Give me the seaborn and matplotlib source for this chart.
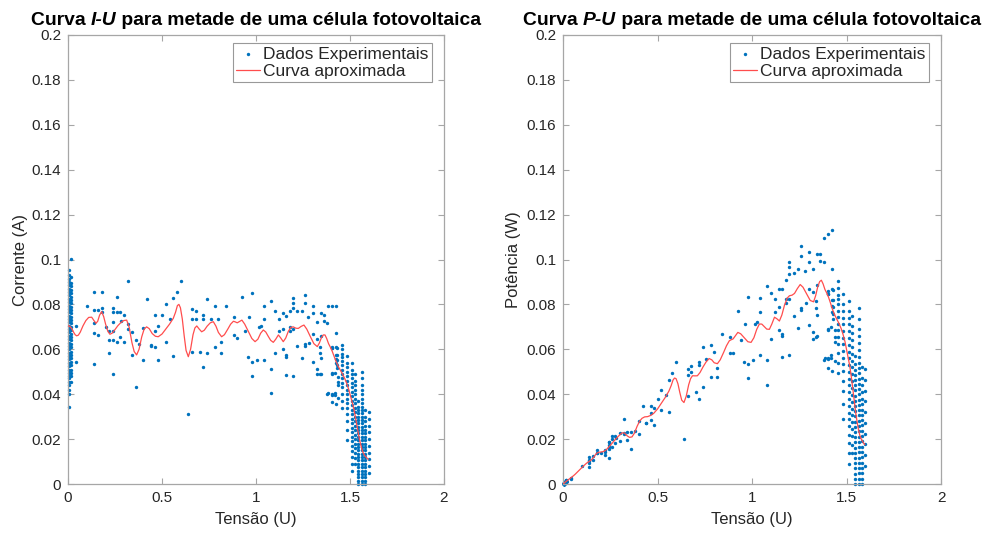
import matplotlib
matplotlib.use("Agg")
import matplotlib.pyplot as plt
import seaborn as sns
import numpy as np
import pandas as pd
from matplotlib.ticker import FuncFormatter, MultipleLocator

# ---------------- data ----------------
# isolated measurement points (U in V, I in A)
scatter_U = [0.041, 0.041, 0.099, 0.14, 0.14, 0.14, 0.14, 0.14, 0.161, 0.161, 0.179, 0.179, 0.179,
             0.2, 0.22, 0.22, 0.22, 0.241, 0.241, 0.241, 0.241, 0.241, 0.241, 0.259, 0.259, 0.277, 0.277,
             0.259, 0.282, 0.3, 0.3, 0.321, 0.321, 0.321, 0.339, 0.339, 0.362, 0.362, 0.379, 0.401, 0.401,
             0.422, 0.44, 0.44, 0.463, 0.463, 0.463, 0.48, 0.48, 0.5, 0.521, 0.521, 0.543, 0.56, 0.56,
             0.578, 0.6, 0.64, 0.661, 0.661, 0.661, 0.679, 0.679, 0.702, 0.72, 0.72, 0.72, 0.741, 0.741,
             0.759, 0.782, 0.782, 0.8, 0.816, 0.816, 0.839, 0.881, 0.881, 0.899, 0.924, 0.941, 0.959, 0.963,
             0.98, 0.98, 0.98, 1.004, 1.016, 1.025, 1.043, 1.043, 1.043, 1.08, 1.08, 1.08, 1.101, 1.101,
             1.122, 1.122, 1.142, 1.142, 1.142, 1.16, 1.16, 1.16, 1.16, 1.181, 1.181, 1.181, 1.198, 1.198,
             1.198, 1.198, 1.198, 1.22, 1.22, 1.243, 1.243, 1.261, 1.261, 1.261, 1.261, 1.278, 1.284, 1.301,
             1.301, 1.301, 1.301, 1.323, 1.323, 1.323, 1.323, 1.34, 1.34, 1.34, 1.344, 1.362, 1.362, 1.379,
             1.381, 1.402, 1.424, 1.379, 1.402, 1.418, 1.424, 1.402, 1.402, 1.424, 1.424, 1.424, 1.424,
             1.424, 1.346, 1.346, 1.346, 1.402, 1.402, 1.402, 1.402, 1.402, 1.385, 1.42, 1.42, 1.429, 1.429,
             1.429, 1.429, 1.429, 1.438, 1.438, 1.438, 1.438]
scatter_I = [0.0704, 0.0545, 0.0793, 0.0857, 0.0775, 0.0719, 0.0674, 0.0535, 0.0775, 0.0664, 0.0857,
             0.0782, 0.0768, 0.0698, 0.0683, 0.0641, 0.0585, 0.0782, 0.0768, 0.0723, 0.0683, 0.0641, 0.0489,
             0.0832, 0.0768, 0.0768, 0.0654, 0.0632, 0.0728, 0.0753, 0.0632, 0.0904, 0.0714, 0.0689, 0.0679,
             0.0575, 0.0641, 0.0434, 0.0625, 0.0552, 0.0696, 0.0823, 0.0620, 0.0613, 0.0612, 0.0753, 0.0683,
             0.0704, 0.0552, 0.0753, 0.0634, 0.0802, 0.0733, 0.0827, 0.0572, 0.0857, 0.0906, 0.0312, 0.0778,
             0.0733, 0.0590, 0.0771, 0.0733, 0.0586, 0.0753, 0.0735, 0.0523, 0.0823, 0.0585, 0.0735, 0.0794,
             0.0609, 0.0735, 0.0634, 0.0585, 0.0794, 0.0745, 0.0664, 0.0649, 0.0832, 0.0683, 0.0567, 0.0742,
             0.0849, 0.0545, 0.0481, 0.0552, 0.0700, 0.0705, 0.0793, 0.0735, 0.0552, 0.0817, 0.0512, 0.0407,
             0.0771, 0.0585, 0.0735, 0.0681, 0.0760, 0.0689, 0.0601, 0.0748, 0.0575, 0.0567, 0.0486, 0.0771,
             0.0698, 0.0683, 0.0827, 0.0805, 0.0782, 0.0689, 0.0481, 0.0772, 0.0615, 0.0772, 0.0560, 0.0842,
             0.0805, 0.0622, 0.0615, 0.0742, 0.0627, 0.0793, 0.0760, 0.0667, 0.0545, 0.0723, 0.0646, 0.0512,
             0.0489, 0.0609, 0.0585, 0.0489, 0.0763, 0.0753, 0.0728, 0.0716, 0.0793, 0.0793, 0.0793, 0.0401,
             0.0401, 0.0396, 0.0355, 0.0489, 0.0604, 0.0671, 0.0609, 0.0575, 0.0556, 0.0538, 0.0659, 0.0560,
             0.0490, 0.0612, 0.0604, 0.0493, 0.0396, 0.0367, 0.0404, 0.0493, 0.0404, 0.0604, 0.0575, 0.0552,
             0.0530, 0.0515, 0.0478, 0.0456, 0.0441, 0.0382]

# dense runs of measurements taken at (almost) constant voltage
column_U = [0.003, 0.017, 1.455, 1.482, 1.513, 1.527, 1.545, 1.566, 1.580, 1.600]
column_I = [
    [0.0344, 0.040, 0.042, 0.044, 0.0455, 0.047, 0.048, 0.0495, 0.051, 0.0525, 0.054, 0.0555, 0.057,
     0.0585, 0.060, 0.0615, 0.063, 0.0645, 0.066, 0.0675, 0.069, 0.0705, 0.072, 0.0735, 0.075, 0.0765,
     0.078, 0.0795, 0.081, 0.0825, 0.084, 0.0855, 0.087, 0.0885, 0.090, 0.0915, 0.093, 0.0953],
    [0.0456, 0.048, 0.0495, 0.051, 0.053, 0.0545, 0.056, 0.0575, 0.059, 0.061, 0.0625, 0.064, 0.0655,
     0.067, 0.0685, 0.070, 0.0715, 0.073, 0.0745, 0.076, 0.0775, 0.079, 0.0805, 0.082, 0.0835, 0.085,
     0.0865, 0.088, 0.0895, 0.0923, 0.1001],
    [0.034, 0.037, 0.040, 0.043, 0.045, 0.047, 0.049, 0.051, 0.053, 0.055, 0.0565, 0.058, 0.060, 0.062],
    [0.0196, 0.024, 0.028, 0.031, 0.034, 0.036, 0.038, 0.040, 0.042, 0.044, 0.046, 0.048, 0.050, 0.052,
     0.054, 0.057],
    [0.006, 0.009, 0.012, 0.0145, 0.017, 0.019, 0.021, 0.023, 0.025, 0.027, 0.029, 0.031, 0.033, 0.035,
     0.037, 0.039, 0.041, 0.043, 0.045, 0.047, 0.049, 0.051, 0.054],
    [0.009, 0.0115, 0.014, 0.016, 0.018, 0.020, 0.022, 0.024, 0.026, 0.028, 0.030, 0.032, 0.034, 0.036,
     0.038, 0.040, 0.042, 0.044, 0.046, 0.049],
    [0.000, 0.0015, 0.003, 0.0045, 0.006, 0.0075, 0.009, 0.0105, 0.012, 0.0135, 0.015, 0.0165, 0.018,
     0.0195, 0.021, 0.0225, 0.024, 0.0255, 0.027, 0.0285, 0.030, 0.0315, 0.033, 0.0345, 0.037],
    [0.000, 0.0015, 0.003, 0.0045, 0.006, 0.0075, 0.009, 0.0105, 0.012, 0.0135, 0.015, 0.0165, 0.018,
     0.0195, 0.021, 0.0225, 0.024, 0.0255, 0.027, 0.0285, 0.030, 0.0315, 0.033, 0.0345, 0.036, 0.038,
     0.040, 0.042, 0.044, 0.047, 0.050],
    [0.000, 0.0015, 0.003, 0.0045, 0.006, 0.0075, 0.009, 0.0105, 0.012, 0.0135, 0.015, 0.0165, 0.018,
     0.0195, 0.021, 0.0225, 0.024, 0.026, 0.028, 0.030, 0.033],
    [0.005, 0.008, 0.011, 0.014, 0.017, 0.020, 0.023, 0.026, 0.029, 0.032],
]

# fitted (approximated) I-U curve, read point by point
curve_U = [0.000, 0.010, 0.020, 0.030, 0.038, 0.046, 0.055, 0.065, 0.080, 0.095, 0.110, 0.126, 0.138,
           0.149, 0.158, 0.168, 0.179, 0.190, 0.200, 0.212, 0.223, 0.235, 0.250, 0.265, 0.280, 0.296,
           0.312, 0.325, 0.340, 0.352, 0.365, 0.378, 0.392, 0.405, 0.418, 0.432, 0.448, 0.465, 0.480,
           0.500, 0.520, 0.540, 0.560, 0.572, 0.582, 0.590, 0.598, 0.608, 0.618, 0.628, 0.640, 0.652,
           0.665, 0.675, 0.685, 0.698, 0.711, 0.725, 0.740, 0.757, 0.773, 0.787, 0.800, 0.817, 0.832,
           0.850, 0.865, 0.880, 0.890, 0.900, 0.912, 0.925, 0.940, 0.960, 0.978, 0.995, 1.010, 1.025,
           1.039, 1.052, 1.065, 1.078, 1.092, 1.105, 1.119, 1.132, 1.145, 1.158, 1.172, 1.186, 1.198,
           1.212, 1.225, 1.240, 1.255, 1.270, 1.290, 1.308, 1.326, 1.337, 1.348, 1.358, 1.367, 1.376,
           1.386, 1.394, 1.405, 1.415, 1.426, 1.438, 1.450, 1.460, 1.472, 1.482, 1.492, 1.500, 1.509,
           1.518, 1.525, 1.532, 1.538, 1.544, 1.550, 1.557, 1.564, 1.571, 1.578, 1.585, 1.591, 1.597]
curve_I = [0.0705, 0.0702, 0.0692, 0.0676, 0.0665, 0.0660, 0.0663, 0.0676, 0.0705, 0.0728, 0.0742,
           0.0743, 0.0728, 0.0716, 0.0725, 0.0752, 0.0768, 0.0745, 0.0712, 0.0680, 0.0667, 0.0672,
           0.0688, 0.0705, 0.0718, 0.0728, 0.0730, 0.0700, 0.0630, 0.0590, 0.0575, 0.0600, 0.0655,
           0.0690, 0.0700, 0.0692, 0.0670, 0.0658, 0.0656, 0.0668, 0.0690, 0.0712, 0.0738, 0.0765,
           0.0795, 0.0800, 0.0785, 0.0735, 0.0660, 0.0595, 0.0567, 0.0600, 0.0665, 0.0695, 0.0704,
           0.0690, 0.0678, 0.0685, 0.0703, 0.0718, 0.0723, 0.0703, 0.0675, 0.0656, 0.0665, 0.0690,
           0.0712, 0.0725, 0.0722, 0.0718, 0.0724, 0.0730, 0.0712, 0.0678, 0.0648, 0.0634, 0.0645,
           0.0672, 0.0686, 0.0677, 0.0658, 0.0640, 0.0631, 0.0645, 0.0664, 0.0650, 0.0634, 0.0650,
           0.0680, 0.0698, 0.0700, 0.0694, 0.0693, 0.0702, 0.0708, 0.0690, 0.0655, 0.0625, 0.0612,
           0.0628, 0.0652, 0.0664, 0.0664, 0.0648, 0.0625, 0.0612, 0.0592, 0.0570, 0.0545, 0.0523,
           0.0505, 0.0490, 0.0470, 0.0449, 0.0425, 0.0400, 0.0372, 0.0344, 0.0315, 0.0283, 0.0255,
           0.0226, 0.0200, 0.0175, 0.0153, 0.0137, 0.0127, 0.0120, 0.0114, 0.0110]

x_ticks = [0, 0.5, 1, 1.5, 2]
titles = [("Curva ", "I-U", " para metade de uma célula fotovoltaica"),
          ("Curva ", "P-U", " para metade de uma célula fotovoltaica")]
y_labels = ["Corrente (A)", "Potência (W)"]
x_label = "Tensão (U)"
legend_labels = ["Dados Experimentais", "Curva aproximada"]

# ---------------- build tables ----------------
all_U = list(scatter_U)
all_I = list(scatter_I)
for u, col in zip(column_U, column_I):
    all_U += [u] * len(col)
    all_I += col
pts = pd.DataFrame({"U": all_U, "I": all_I})
pts["P"] = pts["U"] * pts["I"]
crv = pd.DataFrame({"U": curve_U, "I": curve_I})
crv["P"] = crv["U"] * crv["I"]

# ---------------- style ----------------
sns.set_style("white")
plt.rcParams["font.family"] = ["Liberation Sans", "DejaVu Sans"]
AX_GRAY = "#a6a6a6"
TXT = "#262626"
BLUE = "#0072BD"
RED = "#ff4d4d"

fig = plt.figure(figsize=(9.85, 5.34), dpi=100)
W, H = 985, 534
axes = [fig.add_axes([68 / W, (H - 484) / H, 376 / W, 449 / H]),
        fig.add_axes([563 / W, (H - 484) / H, 378 / W, 449 / H])]
ylab_x = [-0.106, -0.111]

fmt = FuncFormatter(lambda v, p: "%g" % round(v, 4))
for k, (ax, ycol) in enumerate(zip(axes, ["I", "P"])):
    sns.scatterplot(data=pts, x="U", y=ycol, ax=ax, s=6, color=BLUE, linewidth=0,
                    marker="o", label=legend_labels[0], clip_on=False, zorder=2)
    sns.lineplot(data=crv, x="U", y=ycol, ax=ax, color=RED, linewidth=0.9, sort=False,
                 estimator=None, label=legend_labels[1], zorder=3)
    ax.set_xlim(0, 2)
    ax.set_ylim(0, 0.2)
    ax.set_xticks(x_ticks)
    ax.yaxis.set_major_locator(MultipleLocator(0.02))
    ax.xaxis.set_major_formatter(fmt)
    ax.yaxis.set_major_formatter(fmt)
    for s in ax.spines.values():
        s.set_visible(True)
        s.set_color(AX_GRAY)
        s.set_linewidth(0.9)
    ax.tick_params(direction="in", length=4, width=0.8, color=AX_GRAY, labelcolor=TXT,
                   labelsize=11, top=True, right=True, bottom=True, left=True, pad=5)
    ax.set_xlabel(x_label, fontsize=12, color=TXT)
    ax.set_ylabel(y_labels[k], fontsize=12, color=TXT)
    ax.xaxis.set_label_coords(0.5, -0.062)
    ax.yaxis.set_label_coords(ylab_x[k], 0.5)
    leg = ax.legend(loc="upper right", bbox_to_anchor=(1 - 12 / 376, 1 - 8 / 449),
                    fontsize=12.5, frameon=True, fancybox=False,
                    framealpha=1, edgecolor="#999999", borderpad=0.2, labelspacing=0.12,
                    handlelength=1.35, handletextpad=0.2, borderaxespad=0.0, markerscale=1.0)
    leg.get_frame().set_linewidth(0.8)
    for t in leg.get_texts():
        t.set_color(TXT)

# ---------------- titles with bold-italic part ----------------
fig.canvas.draw()
renderer = fig.canvas.get_renderer()
TS = 13.9
for ax, (pre, ital, post) in zip(axes, titles):
    pos = ax.get_position()
    cx = (pos.x0 + pos.x1) / 2 * W
    y = (H - 25) / H
    parts = [fig.text(0, y, pre, fontsize=TS, fontweight="bold", color="black", va="baseline"),
             fig.text(0, y, ital, fontsize=TS, fontweight="bold", style="italic", color="black",
                      va="baseline"),
             fig.text(0, y, post, fontsize=TS, fontweight="bold", color="black", va="baseline")]
    widths = [p.get_window_extent(renderer).width for p in parts]
    x = cx - sum(widths) / 2
    for p, w in zip(parts, widths):
        p.set_x(x / W)
        x += w

fig.savefig("out.png", dpi=100)
